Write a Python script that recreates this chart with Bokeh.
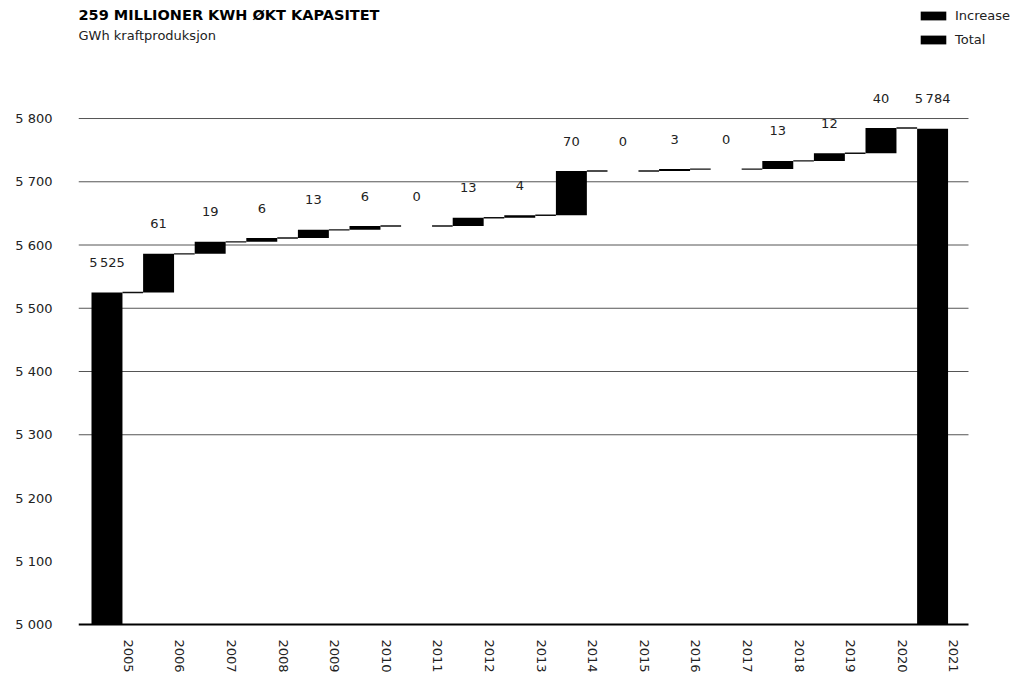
import numpy as np
from bokeh.plotting import figure
from bokeh.models import Range1d, FixedTicker, Label, Legend, LegendItem, ColumnDataSource
from bokeh.core.properties import value
from bokeh.embed import file_html
from bokeh.resources import INLINE

# Annual hydro power production, GWh
years = [str(y) for y in range(2005, 2022)]
start_total = 5525
end_total = 5784
increases = [61, 19, 6, 13, 6, 0, 13, 4, 70, 0, 3, 0, 13, 12, 40]

y_ticks = [5000, 5100, 5200, 5300, 5400, 5500, 5600, 5700, 5800]
y_tick_labels = ["5 000", "5 100", "5 200", "5 300", "5 400", "5 500", "5 600", "5 700", "5 800"]
grid_levels = [5300, 5400, 5500, 5600, 5700, 5800]
baseline = 5000

FONT = "DejaVu Sans"
TEXT = "#222222"
BAR_W = 0.6
TICK_SHIFT = 0.415
X_START = -0.552
X_PLOT_END = 16.696      # where the grid and baseline stop
X_END = 17.665           # frame continues to the right for the legend


def fmt(v):
    s = f"{v:,}"
    return s.replace(",", "\u2009")


# waterfall geometry
n = len(years)
xs = np.arange(n)
cum = start_total + np.cumsum([0] + increases)          # level after each step
inc_x = xs[1:-1]
inc_bottom = cum[:-1]
inc_top = cum[1:]

inc_src = ColumnDataSource(dict(x=inc_x, bottom=inc_bottom, top=inc_top))
tot_src = ColumnDataSource(dict(x=[0, n - 1], bottom=[baseline, baseline],
                                top=[start_total, end_total]))

con_src = ColumnDataSource(dict(
    x0=xs[:-1] + BAR_W / 2, x1=xs[1:] - BAR_W / 2, y=cum))

label_src = ColumnDataSource(dict(
    x=xs,
    y=[start_total] + list(inc_top) + [end_total],
    text=[fmt(start_total)] + [fmt(v) for v in increases] + [fmt(end_total)],
))

grid_src = ColumnDataSource(dict(
    x0=[X_START] * len(grid_levels), x1=[X_PLOT_END] * len(grid_levels), y=grid_levels))

p = figure(width=1018, height=675,
           x_range=Range1d(X_START, X_END), y_range=Range1d(4996.84, 5986.6),
           output_backend="svg", toolbar_location=None,
           min_border_left=78, min_border_right=0, min_border_top=0, min_border_bottom=49)
p.outline_line_color = None
p.background_fill_color = "white"
p.border_fill_color = "white"
p.xgrid.visible = False
p.ygrid.visible = False

# y axis
p.yaxis.ticker = FixedTicker(ticks=y_ticks)
p.yaxis.major_label_overrides = {t: l for t, l in zip(y_ticks, y_tick_labels)}
p.yaxis.axis_line_color = None
p.yaxis.major_tick_line_color = None
p.yaxis.minor_tick_line_color = None
p.yaxis.major_tick_out = 0
p.yaxis.minor_tick_out = 0
p.yaxis.major_label_standoff = 26
p.yaxis.major_label_text_font = FONT
p.yaxis.major_label_text_font_size = "13px"
p.yaxis.major_label_text_color = TEXT

# x axis (labels only; the baseline is drawn below)
x_ticks = [round(i + TICK_SHIFT, 3) for i in range(n)]
p.xaxis.ticker = FixedTicker(ticks=x_ticks)
p.xaxis.major_label_overrides = {t: y for t, y in zip(x_ticks, years)}
p.xaxis.major_label_orientation = -np.pi / 2
p.xaxis.axis_line_color = None
p.xaxis.major_tick_line_color = None
p.xaxis.minor_tick_line_color = None
p.xaxis.major_tick_out = 0
p.xaxis.minor_tick_out = 0
p.xaxis.major_label_standoff = 13
p.xaxis.major_label_text_font = FONT
p.xaxis.major_label_text_font_size = "13px"
p.xaxis.major_label_text_color = TEXT

# horizontal grid lines
p.segment(x0="x0", y0="y", x1="x1", y1="y", source=grid_src,
          line_color="#555555", line_width=1)

# marks
r_inc = p.vbar(x="x", bottom="bottom", top="top", width=BAR_W, source=inc_src,
               fill_color="black", line_color=None)
r_tot = p.vbar(x="x", bottom="bottom", top="top", width=BAR_W, source=tot_src,
               fill_color="black", line_color=None)
p.segment(x0="x0", y0="y", x1="x1", y1="y", source=con_src,
          line_color="#111111", line_width=1.4)

# baseline
p.segment(x0=[X_START], y0=[baseline], x1=[X_PLOT_END], y1=[baseline],
          line_color="black", line_width=2)

p.text(x="x", y="y", text="text", source=label_src, y_offset=-30,
       text_align="center", text_baseline="middle",
       text_font=value(FONT), text_font_size="13px", text_color=TEXT)

# headings
p.add_layout(Label(x=0, y=612, x_units="screen", y_units="screen",
                   text="259 MILLIONER KWH ØKT KAPASITET",
                   text_font=FONT, text_font_size="14.5px", text_font_style="bold",
                   text_color="black", text_baseline="middle"))
p.add_layout(Label(x=0, y=591, x_units="screen", y_units="screen",
                   text="GWh kraftproduksjon",
                   text_font=FONT, text_font_size="13px",
                   text_color=TEXT, text_baseline="middle"))

legend = Legend(items=[LegendItem(label="Increase", renderers=[r_inc]),
                       LegendItem(label="Total", renderers=[r_tot])],
                location=(839, 579), glyph_width=32, glyph_height=11,
                label_text_font=FONT, label_text_font_size="13px",
                label_text_color=TEXT, label_standoff=6,
                padding=0, margin=0, spacing=9,
                border_line_color=None, background_fill_alpha=0)
p.add_layout(legend)

open("out.html", "w").write(file_html(p, INLINE))
